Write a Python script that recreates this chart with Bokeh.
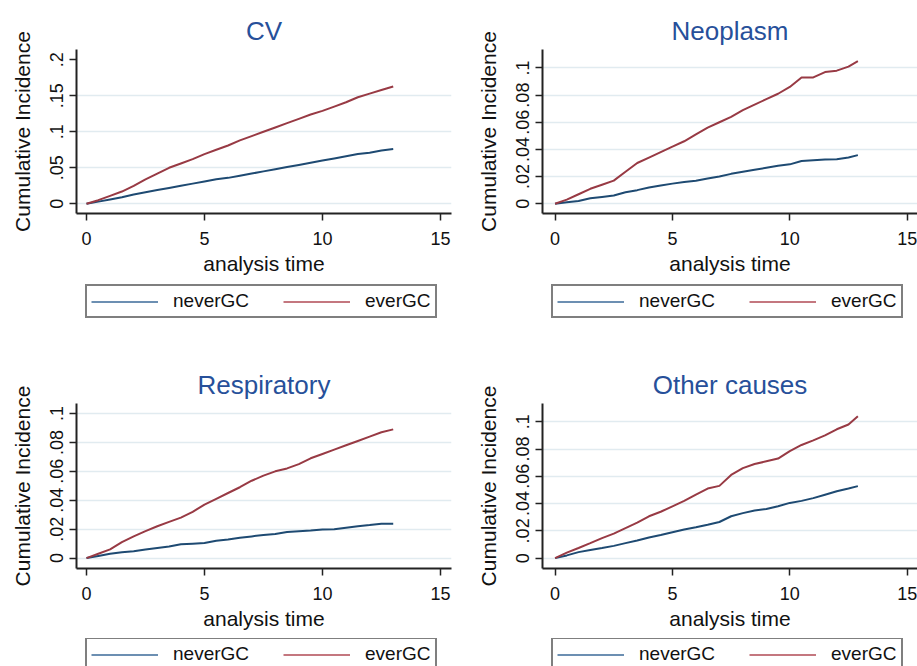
from bokeh.plotting import figure
from bokeh.models import FixedTicker, Range1d, Legend, LegendItem, CustomJSTickFormatter
from bokeh.layouts import column, row
from bokeh.embed import file_html
from bokeh.resources import INLINE

# ---------------- data ----------------
time_left = [0, 0.5, 1, 1.5, 2, 2.5, 3, 3.5, 4, 4.5, 5, 5.5, 6, 6.5, 7, 7.5, 8, 8.5,
             9, 9.5, 10, 10.5, 11, 11.5, 12, 12.5, 13]
time_right = [0, 0.5, 1, 1.5, 2, 2.5, 3, 3.5, 4, 4.5, 5, 5.5, 6, 6.5, 7, 7.5, 8, 8.5,
              9, 9.5, 10, 10.5, 11, 11.5, 12, 12.5, 12.9]

cv_never = [0, 0.003, 0.006, 0.009, 0.013, 0.016, 0.019, 0.022, 0.025, 0.028, 0.031,
            0.034, 0.036, 0.039, 0.042, 0.045, 0.048, 0.051, 0.054, 0.057, 0.060,
            0.063, 0.066, 0.069, 0.071, 0.074, 0.076]
cv_ever = [0, 0.005, 0.011, 0.017, 0.025, 0.034, 0.042, 0.050, 0.056, 0.062, 0.069,
           0.075, 0.081, 0.088, 0.094, 0.100, 0.106, 0.112, 0.118, 0.124, 0.129,
           0.135, 0.141, 0.148, 0.153, 0.158, 0.163]

neo_never = [0, 0.001, 0.002, 0.004, 0.005, 0.006, 0.0085, 0.010, 0.012, 0.0135, 0.0148,
             0.016, 0.017, 0.0185, 0.020, 0.022, 0.0235, 0.025, 0.0265, 0.028, 0.029,
             0.0315, 0.032, 0.0325, 0.0328, 0.034, 0.0358]
neo_ever = [0, 0.003, 0.007, 0.011, 0.014, 0.017, 0.0235, 0.030, 0.034, 0.038, 0.042,
            0.046, 0.051, 0.056, 0.060, 0.064, 0.069, 0.073, 0.077, 0.081, 0.086,
            0.093, 0.093, 0.097, 0.098, 0.101, 0.105]

resp_never = [0, 0.0015, 0.003, 0.004, 0.0047, 0.006, 0.007, 0.008, 0.0095, 0.010, 0.0105,
              0.012, 0.0128, 0.014, 0.015, 0.016, 0.0167, 0.018, 0.0186, 0.019, 0.0198,
              0.020, 0.021, 0.022, 0.0228, 0.0237, 0.0237]
resp_ever = [0, 0.003, 0.006, 0.011, 0.015, 0.0186, 0.022, 0.025, 0.028, 0.032, 0.037,
             0.041, 0.045, 0.049, 0.0535, 0.057, 0.060, 0.062, 0.065, 0.069, 0.072,
             0.075, 0.078, 0.081, 0.084, 0.087, 0.089]

oth_never = [0, 0.002, 0.0044, 0.006, 0.0074, 0.009, 0.011, 0.013, 0.0152, 0.017, 0.019,
             0.021, 0.0226, 0.0245, 0.0265, 0.0307, 0.033, 0.035, 0.036, 0.038, 0.0405,
             0.042, 0.044, 0.0465, 0.049, 0.051, 0.0528]
oth_ever = [0, 0.004, 0.0074, 0.011, 0.0147, 0.018, 0.022, 0.026, 0.0307, 0.034, 0.038,
            0.042, 0.0466, 0.051, 0.053, 0.061, 0.066, 0.069, 0.071, 0.073, 0.0785,
            0.083, 0.0864, 0.090, 0.0945, 0.098, 0.104]

titles = ["CV", "Neoplasm", "Respiratory", "Other causes"]
series_labels = ["neverGC", "everGC"]

x_ticks = [0, 5, 10, 15]
x_tick_labels = ["0", "5", "10", "15"]

cv_y_ticks = [0, 0.05, 0.1, 0.15, 0.2]
cv_y_tick_labels = ["0", ".05", ".1", ".15", ".2"]
cv_y_grid = [0, 0.05, 0.1, 0.15]

small_y_ticks = [0, 0.02, 0.04, 0.06, 0.08, 0.1]
small_y_tick_labels = ["0", ".02", ".04", ".06", ".08", ".1"]
small_y_grid = [0, 0.02, 0.04, 0.06, 0.08, 0.1]

# ---------------- styling ----------------
FONT = "Liberation Sans"
NAVY = "#1e4a72"
MAROON = "#983a44"
LEG_NAVY = "#3b6a98"
LEG_MAROON = "#b04a55"
TITLE_COLOR = "#27509a"
AXIS_COLOR = "#222222"
GRID_COLOR = "#e1ebf0"
TEXT_COLOR = "#111111"

LABEL_CODE = """
for (let i = 0; i < vals.length; i++) {
    if (Math.abs(vals[i] - tick) < 1e-9) { return labs[i]; }
}
return '';
"""


def make_panel(title, t, never, ever, yticks, ylabels, ygrid, xr, yr,
               width, height, b_left, b_right, b_top, b_bottom):
    p = figure(width=width, height=height, output_backend="svg",
               toolbar_location=None, x_range=Range1d(*xr), y_range=Range1d(*yr),
               min_border_left=b_left, min_border_right=b_right,
               min_border_top=b_top, min_border_bottom=b_bottom,
               x_axis_label="analysis time", y_axis_label="Cumulative Incidence")
    p.outline_line_color = None
    p.background_fill_color = "white"
    p.border_fill_color = "white"

    p.title.text = title
    p.title.align = "center"
    p.title.text_font = FONT
    p.title.text_font_size = "26px"
    p.title.text_font_style = "normal"
    p.title.text_color = TITLE_COLOR
    p.title.standoff = 8

    p.line(t, never, line_color=NAVY, line_width=2)
    p.line(t, ever, line_color=MAROON, line_width=2)

    for ax in (p.xaxis[0], p.yaxis[0]):
        ax.axis_line_color = AXIS_COLOR
        ax.axis_line_width = 2
        ax.major_tick_line_color = AXIS_COLOR
        ax.major_tick_line_width = 1.5
        ax.major_tick_out = 7
        ax.major_tick_in = 0
        ax.minor_tick_out = 0
        ax.minor_tick_in = 0
        ax.major_label_text_font = FONT
        ax.major_label_text_font_size = "18px"
        ax.major_label_text_color = TEXT_COLOR
        ax.axis_label_text_font = FONT
        ax.axis_label_text_font_size = "21px"
        ax.axis_label_text_font_style = "normal"
        ax.axis_label_text_color = TEXT_COLOR

    p.xaxis.major_label_standoff = 11
    p.xaxis.axis_label_standoff = 4
    p.yaxis.major_label_standoff = 6
    p.yaxis.axis_label_standoff = 14

    p.xaxis.ticker = FixedTicker(ticks=x_ticks)
    p.xaxis.formatter = CustomJSTickFormatter(args=dict(vals=x_ticks, labs=x_tick_labels),
                                              code=LABEL_CODE)
    p.yaxis.ticker = FixedTicker(ticks=yticks)
    p.yaxis.formatter = CustomJSTickFormatter(args=dict(vals=yticks, labs=ylabels),
                                              code=LABEL_CODE)
    p.yaxis.major_label_orientation = "vertical"

    p.xgrid.visible = False
    p.ygrid.ticker = FixedTicker(ticks=ygrid)
    p.ygrid.grid_line_color = GRID_COLOR
    p.ygrid.grid_line_width = 1.5
    return p


def make_legend(t, never, ever, width, height, b_left, b_right, loc):
    # the legend lives in its own strip under the panel; the series are drawn
    # there too, but outside the strip's visible y range, so only the key shows
    q = figure(width=width, height=height, output_backend="svg", toolbar_location=None,
               x_range=Range1d(0, 1), y_range=Range1d(5, 6),
               min_border_left=b_left, min_border_right=b_right,
               min_border_top=0, min_border_bottom=0,
               x_axis_type=None, y_axis_type=None)
    q.outline_line_color = None
    q.xgrid.visible = False
    q.ygrid.visible = False
    q.border_fill_color = "white"
    r1 = q.line(t, never, line_color=LEG_NAVY, line_width=1.6)
    r2 = q.line(t, ever, line_color=LEG_MAROON, line_width=1.6)
    legend = Legend(items=[LegendItem(label=series_labels[0], renderers=[r1]),
                           LegendItem(label=series_labels[1], renderers=[r2])],
                    orientation="horizontal", location=loc,
                    border_line_color="#000000", border_line_width=2.5,
                    padding=4, spacing=34, glyph_width=67, glyph_height=19,
                    label_height=19, label_standoff=15,
                    label_text_font=FONT, label_text_font_size="19px",
                    label_text_color=TEXT_COLOR, margin=0)
    q.add_layout(legend, "center")
    return q


p1 = make_panel(titles[0], time_left, cv_never, cv_ever, cv_y_ticks, cv_y_tick_labels,
                cv_y_grid, (-0.424, 15.47), (-0.0135, 0.2143),
                460, 283, 76, 9, 49, 70)
p2 = make_panel(titles[1], time_right, neo_never, neo_ever, small_y_ticks, small_y_tick_labels,
                small_y_grid, (-0.536, 15.44), (-0.0072, 0.1136),
                457, 283, 82, 0, 49, 70)
p3 = make_panel(titles[2], time_left, resp_never, resp_ever, small_y_ticks, small_y_tick_labels,
                small_y_grid, (-0.424, 15.47), (-0.0072, 0.1069),
                460, 308, 76, 9, 73, 70)
p4 = make_panel(titles[3], time_right, oth_never, oth_ever, small_y_ticks, small_y_tick_labels,
                small_y_grid, (-0.536, 15.44), (-0.0076, 0.1134),
                457, 308, 82, 0, 73, 70)

l1 = make_legend(time_left, cv_never, cv_ever, 460, 47, 76, 9, (9, 12))
l2 = make_legend(time_right, neo_never, neo_ever, 457, 47, 82, 0, (9, 12))
l3 = make_legend(time_left, resp_never, resp_ever, 460, 28, 76, 9, (9, -5))
l4 = make_legend(time_right, oth_never, oth_ever, 457, 28, 82, 0, (9, -5))

layout = column(row(column(p1, l1), column(p2, l2)),
                row(column(p3, l3), column(p4, l4)))
open("out.html", "w").write(file_html(layout, INLINE))
